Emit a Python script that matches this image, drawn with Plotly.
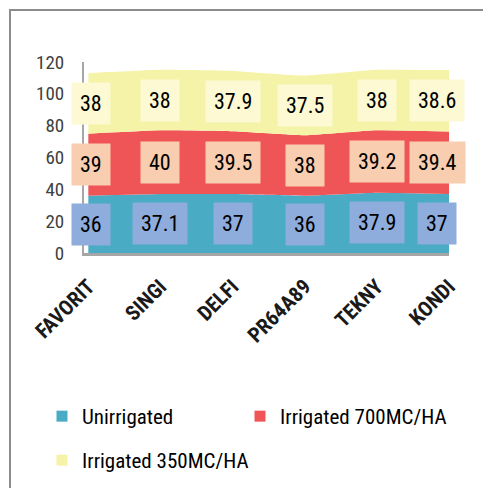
import plotly.graph_objects as go

categories = ["FAVORIT", "SINGI", "DELFI", "PR64A89", "TEKNY", "KONDI"]
unirrigated = [36, 37.1, 37, 36, 37.9, 37]
irrigated_700 = [39, 40, 39.5, 38, 39.2, 39.4]
irrigated_350 = [38, 38, 37.9, 37.5, 38, 38.6]
series_names = ["Unirrigated", "Irrigated 700MC/HA", "Irrigated 350MC/HA"]
y_ticks = [0, 20, 40, 60, 80, 100, 120]

series = [unirrigated, irrigated_700, irrigated_350]
area_colors = ["#4AABC5", "#EF5456", "#F5F3A7"]
label_bg = ["#8EACDC", "#F9CDAF", "#FDF9D3"]
FONT = "Liberation Sans Narrow, Roboto Condensed, Lato, sans-serif"

OFF = 8  # page body margin offset
W, H = 491 - OFF, 488 - OFF
L, T = 84 - OFF, 62 - OFF
R = W - (449 - OFF)
B = H - (253 - OFF)
pw, ph = W - L - R, H - T - B

def px_x(p):  # reference pixel -> paper x
    return (p - OFF - L) / pw

def px_y(p):  # reference pixel -> paper y
    return (H - B - (p - OFF)) / ph

fig = go.Figure()
xs = list(range(len(categories)))
for name, vals, col in zip(series_names, series, area_colors):
    fig.add_trace(go.Scatter(
        x=xs, y=vals, name=name, stackgroup="one", mode="lines",
        line=dict(width=0, shape="spline", smoothing=0.4, color=col),
        fillcolor=col, showlegend=False, hoverinfo="skip"))

legend_pos = [(34, 388), (232, 388), (34, 432)]
legend_ids = ["legend", "legend2", "legend3"]
for name, col, lid in zip(series_names, area_colors, legend_ids):
    fig.add_trace(go.Scatter(
        x=[None], y=[None], mode="markers", name=name,
        marker=dict(symbol="square", size=11, color=col), legend=lid))

annotations = []
base = [0] * len(categories)
for si, vals in enumerate(series):
    for j, v in enumerate(vals):
        xshift = 3 if j == 0 else (-12 if j == len(categories) - 1 else 0)
        annotations.append(dict(
            x=j, y=base[j] + v / 2, xref="x", yref="y", text=f"{v:g}",
            showarrow=False, bgcolor=label_bg[si], borderpad=8,
            xshift=xshift,
            font=dict(family=FONT, size=22, color="#000000")))
    base = [b + v for b, v in zip(base, vals)]

legends = {}
for lid, (lx, ly) in zip(legend_ids, legend_pos):
    legends[lid] = dict(orientation="h", xref="container", yref="container",
                        x=lx / W, y=1 - ly / H, xanchor="left", yanchor="top",
                        font=dict(family=FONT, size=21, color="#000000"),
                        bgcolor="rgba(0,0,0,0)")

fig.update_layout(
    width=W, height=H, margin=dict(l=L, r=R, t=T, b=B, autoexpand=False),
    paper_bgcolor="white", plot_bgcolor="white",
    font=dict(family=FONT, color="#404040"),
    annotations=annotations,
    xaxis=dict(range=[-0.06, 5.0], tickmode="array", tickvals=xs,
               ticktext=[f"<b>{c}</b>" for c in categories],
               tickangle=-45, showgrid=False, zeroline=False,
               showline=True, linecolor="#A6A6A6", linewidth=3,
               ticks="outside", ticklen=10, tickcolor="rgba(0,0,0,0)",
               automargin=False,
               tickfont=dict(family=FONT, size=21, color="#1A1A1A")),
    yaxis=dict(range=[0, 120], tickmode="array", tickvals=y_ticks,
               showgrid=False, zeroline=False, showline=True,
               linecolor="#A6A6A6", linewidth=2, automargin=False,
               ticks="outside", ticklen=14, tickcolor="rgba(0,0,0,0)",
               tickfont=dict(family=FONT, size=19, color="#404040")),
    shapes=[dict(type="rect", xref="paper", yref="paper",
                 x0=px_x(10), x1=px_x(520), y0=px_y(520), y1=px_y(10),
                 line=dict(color="#8C8C8C", width=2), layer="below")],
    **legends,
)

fig.write_html("out.html")
